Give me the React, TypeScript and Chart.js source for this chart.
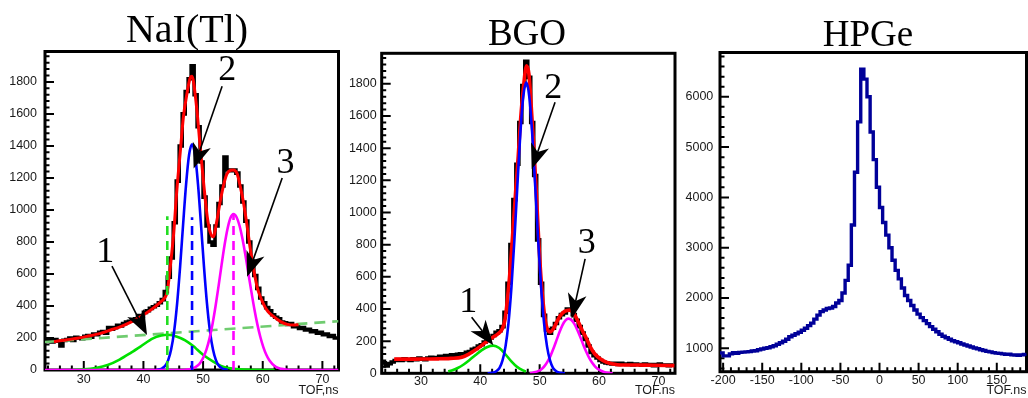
import React, { useEffect, useRef } from "react";
import { Chart, registerables } from "chart.js";

Chart.register(...registerables);

// ======================= DATA =======================
// ---- NaI(Tl) panel ----
const NAI_BIN_START = 23.5; // ns, low edge of first bin
const NAI_BIN_WIDTH = 0.5; // ns
const NAI_COUNTS = [
  185, 195, 175, 190, 180, 150, 185, 190, 200, 185,
  205, 200, 195, 210, 215, 205, 225, 220, 235, 240,
  230, 265, 255, 265, 280, 275, 290, 300, 305, 315,
  320, 340, 335, 360, 370, 385, 395, 405, 420, 440,
  490, 580, 700, 920, 1180, 1400, 1600, 1740, 1820, 1900,
  1720, 1520, 1300, 1080, 900, 800, 780, 900, 1040, 1150,
  1330, 1250, 1245, 1250, 1230, 1150, 1050, 930, 800, 680,
  590, 510, 450, 420, 390, 370, 345, 330, 320, 300,
  295, 285, 290, 270, 275, 260, 265, 250, 255, 240,
  245, 230, 235, 220, 225, 210, 215, 200,
];
const NAI_FIT = [
  [25, 177], [27, 188], [28.85, 198], [30.5, 210], [32.8, 229], [34.5, 250], [36.1, 270],
  [37.8, 298], [39.5, 333], [41.2, 374], [42.9, 426], [43.7, 458], [44.0, 490], [44.5, 645],
  [45.07, 853], [45.6, 1124], [46.2, 1373], [46.7, 1581], [47.3, 1727], [47.8, 1821],
  [48.15, 1835], [48.4, 1800], [49.0, 1610], [49.5, 1400], [50.1, 1165], [50.7, 957],
  [51.2, 860], [51.7, 832], [52.3, 930], [52.9, 1060], [53.5, 1165], [54.0, 1225],
  [54.6, 1248], [55.1, 1250], [55.7, 1227], [56.25, 1144], [56.8, 1040], [57.4, 894],
  [57.9, 760], [58.5, 624], [59.05, 520], [59.6, 458], [60.7, 374], [61.85, 333],
  [63.0, 302], [64.1, 285], [65.2, 281], [66.0, 283],
];
const NAI_BACKGROUND = [[23.5, 175], [72.7, 305]];
const NAI_PEAK1 = [
  [28, 0], [30, 4], [32, 13], [34, 31], [36, 65], [38, 110], [39.5, 146], [41.6, 198],
  [43, 215], [44, 220], [45, 216], [46.2, 200], [47, 185], [48.4, 148], [49, 128],
  [50, 95], [51.7, 52], [53, 25], [54.6, 10], [56, 4], [58, 1], [62, 0],
];
const NAI_PEAK2 = [
  [42.15, 0], [42.65, 4], [43.15, 11], [43.65, 27], [44.15, 62], [44.65, 129], [45.15, 243],
  [45.65, 416], [46.15, 646], [46.65, 909], [47.15, 1160], [47.65, 1343], [48.15, 1410],
  [48.65, 1343], [49.15, 1160], [49.65, 909], [50.15, 646], [50.65, 416], [51.15, 243],
  [51.65, 129], [52.15, 62], [52.65, 27], [53.15, 11], [53.65, 4], [54.15, 0],
];
const NAI_PEAK3 = [
  [23.5, 0], [46, 0], [47.1, 2], [48.1, 8], [49.1, 28], [49.6, 49], [50.1, 83], [50.6, 132],
  [51.1, 201], [51.6, 291], [52.1, 401], [52.6, 526], [53.1, 657], [53.6, 781], [54.1, 883],
  [54.6, 951], [55.1, 975], [55.6, 956], [56.1, 903], [56.6, 820], [57.1, 717], [57.6, 603],
  [58.1, 488], [58.6, 380], [59.1, 285], [59.6, 206], [60.1, 143], [60.6, 95], [61.1, 61],
  [62.1, 22], [63.1, 7], [64.1, 2], [65, 0], [72.7, 0],
];
const NAI_MARKER_X = [44.0, 48.15, 55.1];
const NAI_MARKER_TOP = [960, 955, 975];
const NAI_ARROWS = [
  { label: "1", lx: 33.61, ly: 733, x0: 34.73, y0: 649, x1: 40.6, y1: 218 },
  { label: "2", lx: 54.03, ly: 1873, x0: 53.19, y0: 1773, x1: 48.42, y1: 1259 },
  { label: "3", lx: 63.81, ly: 1292, x0: 63.26, y0: 1199, x1: 57.38, y1: 582 },
];
const NAI_X_TICKS = [30, 40, 50, 60, 70];
const NAI_Y_TICKS = [0, 200, 400, 600, 800, 1000, 1200, 1400, 1600, 1800];

// ---- BGO panel ----
const BGO_BIN_START = 23.5;
const BGO_BIN_WIDTH = 0.5;
const BGO_COUNTS = [
  65, 45, 60, 70, 80, 85, 80, 90, 85, 80,
  90, 85, 95, 88, 85, 95, 100, 98, 95, 105,
  100, 110, 105, 115, 110, 118, 122, 120, 130, 135,
  150, 155, 170, 178, 195, 205, 220, 235, 255, 265,
  290, 380, 560, 800, 1080, 1300, 1560, 1790, 1940, 1840,
  1560, 1230, 830, 560, 360, 270, 250, 280, 310, 345,
  365, 375, 400, 395, 365, 330, 290, 250, 210, 170,
  130, 110, 95, 80, 70, 65, 62, 58, 62, 55,
  62, 58, 55, 60, 52, 58, 55, 50, 58, 52,
  55, 48, 55, 58, 50, 52, 48, 52,
];
const BGO_FIT = [
  [25.5, 88], [27, 88], [29, 88], [31, 89], [33, 90], [35, 93], [36.9, 100], [38, 118],
  [39.1, 143], [40.2, 172], [41.35, 205], [42.2, 226], [43.0, 246], [43.7, 275], [44.2, 340],
  [44.6, 470], [45.0, 629], [45.6, 940], [46.0, 1150], [46.4, 1354], [46.8, 1580],
  [47.25, 1768], [47.8, 1913], [48.2, 1860], [48.6, 1650], [49.0, 1420], [49.5, 1080],
  [49.9, 790], [50.3, 560], [50.9, 340], [51.3, 275], [51.75, 257], [52.3, 275], [52.9, 320],
  [53.5, 360], [54.2, 385], [55.1, 393], [55.8, 370], [56.5, 320], [57.2, 265], [57.9, 215],
  [58.6, 160], [59.3, 120], [60.2, 91], [61.2, 70], [62.4, 58], [63.6, 52], [66, 52],
  [69, 50], [72.7, 48],
];
const BGO_PEAK1 = [
  [34.6, 12], [35.2, 18], [36.2, 33], [37.2, 55], [38.2, 83], [39.2, 114], [40.2, 143],
  [41.2, 164], [42.2, 172], [43.2, 157], [44.2, 120], [45.2, 76], [46.2, 40], [47.2, 18],
  [47.7, 11],
];
const BGO_PEAK2 = [
  [41.25, 0], [41.75, 2], [42.25, 5], [42.75, 14], [43.25, 34], [43.75, 80], [44.25, 166],
  [44.75, 311], [45.25, 534], [45.75, 829], [46.25, 1167], [46.75, 1490], [47.25, 1723],
  [47.75, 1810], [48.25, 1723], [48.75, 1490], [49.25, 1167], [49.75, 829], [50.25, 534],
  [50.75, 311], [51.25, 166], [51.75, 80], [52.25, 34], [52.75, 14], [53.25, 5],
  [53.75, 2], [54.25, 0],
];
const BGO_PEAK3 = [
  [48.35, 0], [48.85, 4], [49.85, 15], [50.35, 27], [50.85, 46], [51.35, 74], [51.85, 110],
  [52.35, 156], [52.85, 206], [53.35, 257], [53.85, 300], [54.35, 329], [54.85, 340],
  [55.35, 331], [55.85, 307], [56.35, 269], [56.85, 225], [57.35, 178], [57.85, 134],
  [58.35, 96], [58.85, 65], [59.35, 42], [59.85, 26], [60.85, 8], [61.85, 2], [62.3, 0],
];
const BGO_ARROWS = [
  { label: "1", lx: 37.98, ly: 443, x0: 38.55, y0: 349, x1: 42.2, y1: 174 },
  { label: "2", lx: 52.31, ly: 1768, x0: 52.6, y0: 1685, x1: 48.67, y1: 1271 },
  { label: "3", lx: 57.94, ly: 806, x0: 57.66, y0: 712, x1: 55.41, y1: 340 },
];
const BGO_X_TICKS = [30, 40, 50, 60, 70];
const BGO_Y_TICKS = [0, 200, 400, 600, 800, 1000, 1200, 1400, 1600, 1800];

// ---- HPGe panel ----
const HPGE_BIN_START = -204;
const HPGE_BIN_WIDTH = 4;
const HPGE_COUNTS = [
  910, 850, 850, 890, 915, 900, 920, 925, 930, 935,
  945, 950, 970, 985, 1000, 1010, 1030, 1050, 1080, 1110,
  1140, 1180, 1230, 1260, 1290, 1320, 1360, 1400, 1450, 1500,
  1580, 1660, 1730, 1760, 1790, 1800, 1830, 1900, 1950, 2100,
  2350, 2650, 3450, 4500, 5500, 6550, 6350, 6000, 5300, 4750,
  4200, 3800, 3500, 3250, 3000, 2750, 2550, 2380, 2200, 2050,
  1950, 1850, 1760, 1680, 1610, 1550, 1490, 1430, 1380, 1330,
  1280, 1240, 1210, 1180, 1150, 1130, 1110, 1085, 1065, 1045,
  1025, 1005, 990, 970, 955, 940, 930, 915, 905, 900,
  890, 880, 885, 870, 868, 860, 870, 880, 895,
];
const HPGE_X_TICKS = [-200, -150, -100, -50, 0, 50, 100, 150];
const HPGE_Y_TICKS = [1000, 2000, 3000, 4000, 5000, 6000];

// ======================= STYLES =======================
const TITLES = [
  { text: "NaI(Tl)", cx: 187, top: 8.5, size: 40 },
  { text: "BGO", cx: 527, top: 14, size: 37 },
  { text: "HPGe", cx: 868, top: 15, size: 37 },
];
const C_BLACK = "#000000";
const C_RED = "#ff0000";
const C_GREEN = "#00e000";
const C_BLUE = "#0000ff";
const C_MAGENTA = "#ff00ff";
const C_BG = "#70cc70";
const C_MARK_GREEN = "#22dd22";
const C_NAVY = "#000099";
const LABEL_FONT = { family: '"Liberation Sans", Arial, Helvetica, sans-serif', size: 12.5 };
const LABEL_COLOR = "#1a1a1a";

// ======================= HELPERS =======================
type Pair = number[];
const toPts = (pairs: Pair[]) => pairs.map(([x, y]) => ({ x, y }));
const histPts = (start: number, width: number, counts: number[]) => {
  const pts = counts.map((c, i) => ({ x: start + i * width, y: c }));
  pts.push({ x: start + counts.length * width, y: counts[counts.length - 1] });
  return pts;
};
const histDS = (data: any[], color: string, w: number, order: number) => ({
  data, borderColor: color, borderWidth: w, stepped: "before", pointRadius: 0, fill: false, order,
});
const curveDS = (data: any[], color: string, w: number, order: number) => ({
  data, borderColor: color, borderWidth: w, pointRadius: 0, fill: false, order,
  tension: 0.4, cubicInterpolationMode: "monotone",
});
const straightDS = (data: any[], color: string, w: number, order: number, dash: number[]) => ({
  data, borderColor: color, borderWidth: w, pointRadius: 0, fill: false, order, tension: 0,
  borderDash: dash,
});

type Arrow = { label: string; lx: number; ly: number; x0: number; y0: number; x1: number; y1: number };

type PanelSpec = {
  left: number; width: number; top: number; padRight: number; yAxisWidth: number; xAxisHeight: number;
  xMin: number; xMax: number; yMin: number; yMax: number;
  xTicks: number[]; yTicks: number[]; xMinor: number; xMajor: number; yMinor: number; yMajor: number;
  xTitle: string; xLabelPad: number; yLabelPad: number;
  datasets: () => any[]; arrows: Arrow[];
};

function framePlugin(p: PanelSpec) {
  return {
    id: "rootFrame",
    beforeDatasetsDraw(chart: any) {
      const { ctx, chartArea: a } = chart;
      const xs = chart.scales.x;
      const ys = chart.scales.y;
      ctx.save();
      ctx.strokeStyle = C_BLACK;
      ctx.lineWidth = 2;
      ctx.beginPath();
      const isMajor = (v: number, step: number) => Math.abs(v / step - Math.round(v / step)) < 1e-6;
      for (let k = Math.ceil(p.xMin / p.xMinor); k * p.xMinor <= p.xMax + 1e-9; k++) {
        const v = k * p.xMinor;
        const px = xs.getPixelForValue(v);
        ctx.moveTo(px, a.bottom);
        ctx.lineTo(px, a.bottom - (isMajor(v, p.xMajor) ? 9 : 4.5));
      }
      for (let k = Math.ceil(p.yMin / p.yMinor); k * p.yMinor <= p.yMax + 1e-9; k++) {
        const v = k * p.yMinor;
        const py = ys.getPixelForValue(v);
        ctx.moveTo(a.left, py);
        ctx.lineTo(a.left + (isMajor(v, p.yMajor) ? 9 : 4.5), py);
      }
      ctx.stroke();
      ctx.lineWidth = 3;
      ctx.strokeRect(a.left, a.top, a.right - a.left, a.bottom - a.top);
      ctx.restore();
    },
  };
}

function arrowPlugin(p: PanelSpec) {
  return {
    id: "rootArrows",
    afterDatasetsDraw(chart: any) {
      const { ctx } = chart;
      const xs = chart.scales.x;
      const ys = chart.scales.y;
      ctx.save();
      for (const ar of p.arrows) {
        const X0 = xs.getPixelForValue(ar.x0), Y0 = ys.getPixelForValue(ar.y0);
        const X1 = xs.getPixelForValue(ar.x1), Y1 = ys.getPixelForValue(ar.y1);
        const ang = Math.atan2(Y1 - Y0, X1 - X0);
        const hl = 25, hw = 9.5;
        const c = Math.cos(ang), s = Math.sin(ang);
        const bx = X1 - hl * c, by = Y1 - hl * s;
        const nx = X1 - hl * 0.72 * c, ny = Y1 - hl * 0.72 * s;
        ctx.strokeStyle = C_BLACK;
        ctx.fillStyle = C_BLACK;
        ctx.lineWidth = 1.6;
        ctx.beginPath();
        ctx.moveTo(X0, Y0);
        ctx.lineTo(nx, ny);
        ctx.stroke();
        ctx.beginPath();
        ctx.moveTo(X1, Y1);
        ctx.lineTo(bx + hw * s, by - hw * c);
        ctx.lineTo(nx, ny);
        ctx.lineTo(bx - hw * s, by + hw * c);
        ctx.closePath();
        ctx.fill();
        ctx.font = '36px "Liberation Serif", "Times New Roman", serif';
        ctx.textAlign = "center";
        ctx.textBaseline = "middle";
        ctx.fillText(ar.label, xs.getPixelForValue(ar.lx), ys.getPixelForValue(ar.ly));
      }
      ctx.restore();
    },
  };
}

function buildConfig(p: PanelSpec): any {
  return {
    type: "line",
    data: { datasets: p.datasets() },
    options: {
      animation: false,
      responsive: false,
      events: [],
      layout: { padding: { top: p.top, right: p.padRight, left: 0, bottom: 0 } },
      plugins: { legend: { display: false }, tooltip: { enabled: false }, title: { display: false } },
      elements: { point: { radius: 0 } },
      scales: {
        x: {
          type: "linear",
          min: p.xMin,
          max: p.xMax,
          afterBuildTicks: (s: any) => { s.ticks = p.xTicks.map((v) => ({ value: v })); },
          afterFit: (s: any) => { s.height = p.xAxisHeight; },
          grid: { display: false, drawTicks: false },
          border: { display: false },
          ticks: {
            font: LABEL_FONT, color: LABEL_COLOR, padding: p.xLabelPad,
            autoSkip: false, maxRotation: 0, minRotation: 0,
            callback: (v: any) => String(v),
          },
          title: {
            display: true, text: p.xTitle, align: "end", color: LABEL_COLOR,
            font: LABEL_FONT, padding: { top: 0, bottom: 0 },
          },
        },
        y: {
          type: "linear",
          min: p.yMin,
          max: p.yMax,
          afterBuildTicks: (s: any) => { s.ticks = p.yTicks.map((v) => ({ value: v })); },
          afterFit: (s: any) => { s.width = p.yAxisWidth; },
          grid: { display: false, drawTicks: false },
          border: { display: false },
          ticks: {
            font: LABEL_FONT, color: LABEL_COLOR, padding: p.yLabelPad, autoSkip: false,
            callback: (v: any) => String(v),
          },
        },
      },
    },
    plugins: [framePlugin(p), arrowPlugin(p)],
  };
}

const naiMarkers = () =>
  NAI_MARKER_X.map((x, i) =>
    straightDS([{ x, y: 0 }, { x, y: NAI_MARKER_TOP[i] }], [C_MARK_GREEN, C_BLUE, C_MAGENTA][i], 2.6, 0, [9, 6])
  );

const PANELS: PanelSpec[] = [
  {
    left: 0, width: 345, top: 51.5, padRight: 6.5, yAxisWidth: 45, xAxisHeight: 28,
    xMin: 23.5, xMax: 72.7, yMin: 0, yMax: 1990,
    xTicks: NAI_X_TICKS, yTicks: NAI_Y_TICKS, xMinor: 2, xMajor: 10, yMinor: 40, yMajor: 200,
    xTitle: "TOF,ns", xLabelPad: 2, yLabelPad: 8,
    datasets: () => [
      histDS(histPts(NAI_BIN_START, NAI_BIN_WIDTH, NAI_COUNTS), C_BLACK, 3.6, 10),
      straightDS(toPts(NAI_BACKGROUND), C_BG, 2.6, 7, [11, 7]),
      curveDS(toPts(NAI_FIT), C_RED, 3, 5),
      curveDS(toPts(NAI_PEAK1), C_GREEN, 2.6, 3),
      curveDS(toPts(NAI_PEAK2), C_BLUE, 2.6, 2),
      curveDS(toPts(NAI_PEAK3), C_MAGENTA, 2.6, 1),
      ...naiMarkers(),
    ],
    arrows: NAI_ARROWS,
  },
  {
    left: 345, width: 335, top: 53.3, padRight: 5, yAxisWidth: 36.7, xAxisHeight: 24.7,
    xMin: 23.4, xMax: 72.8, yMin: 0, yMax: 1990,
    xTicks: BGO_X_TICKS, yTicks: BGO_Y_TICKS, xMinor: 2, xMajor: 10, yMinor: 40, yMajor: 200,
    xTitle: "TOF.ns", xLabelPad: 1, yLabelPad: 5,
    datasets: () => [
      histDS(histPts(BGO_BIN_START, BGO_BIN_WIDTH, BGO_COUNTS), C_BLACK, 3.6, 10),
      curveDS(toPts(BGO_FIT), C_RED, 3.6, 5),
      curveDS(toPts(BGO_PEAK1), C_GREEN, 2.6, 3),
      curveDS(toPts(BGO_PEAK3), C_MAGENTA, 2.6, 2),
      curveDS(toPts(BGO_PEAK2), C_BLUE, 2.6, 1),
    ],
    arrows: BGO_ARROWS,
  },
  {
    left: 680, width: 348, top: 52.5, padRight: 1.5, yAxisWidth: 40, xAxisHeight: 26.3,
    xMin: -204, xMax: 188, yMin: 535, yMax: 6880,
    xTicks: HPGE_X_TICKS, yTicks: HPGE_Y_TICKS, xMinor: 10, xMajor: 50, yMinor: 200, yMajor: 1000,
    xTitle: "TOF.ns", xLabelPad: 1.8, yLabelPad: 6.7,
    datasets: () => [histDS(histPts(HPGE_BIN_START, HPGE_BIN_WIDTH, HPGE_COUNTS), C_NAVY, 3.4, 1)],
    arrows: [],
  },
];

function PanelChart({ p }: { p: PanelSpec }) {
  const ref = useRef<HTMLCanvasElement | null>(null);
  useEffect(() => {
    if (!ref.current) return;
    const chart = new Chart(ref.current, buildConfig(p));
    return () => chart.destroy();
  }, [p]);
  return (
    <canvas
      ref={ref}
      width={p.width}
      height={398}
      style={{ position: "absolute", left: p.left, top: 0, width: p.width, height: 398 }}
    />
  );
}

export default function App() {
  return (
    <div
      style={{
        position: "absolute", left: 0, top: 0, width: 1028, height: 398,
        background: "#ffffff", overflow: "hidden",
      }}
    >
      {PANELS.map((p, i) => (
        <PanelChart key={i} p={p} />
      ))}
      {TITLES.map((t) => (
        <div
          key={t.text}
          style={{
            position: "absolute", left: t.cx, top: t.top, transform: "translateX(-50%)",
            fontFamily: '"Liberation Serif", "Times New Roman", serif', fontSize: t.size,
            lineHeight: `${t.size}px`, whiteSpace: "nowrap", color: "#000",
          }}
        >
          {t.text}
        </div>
      ))}
    </div>
  );
}
